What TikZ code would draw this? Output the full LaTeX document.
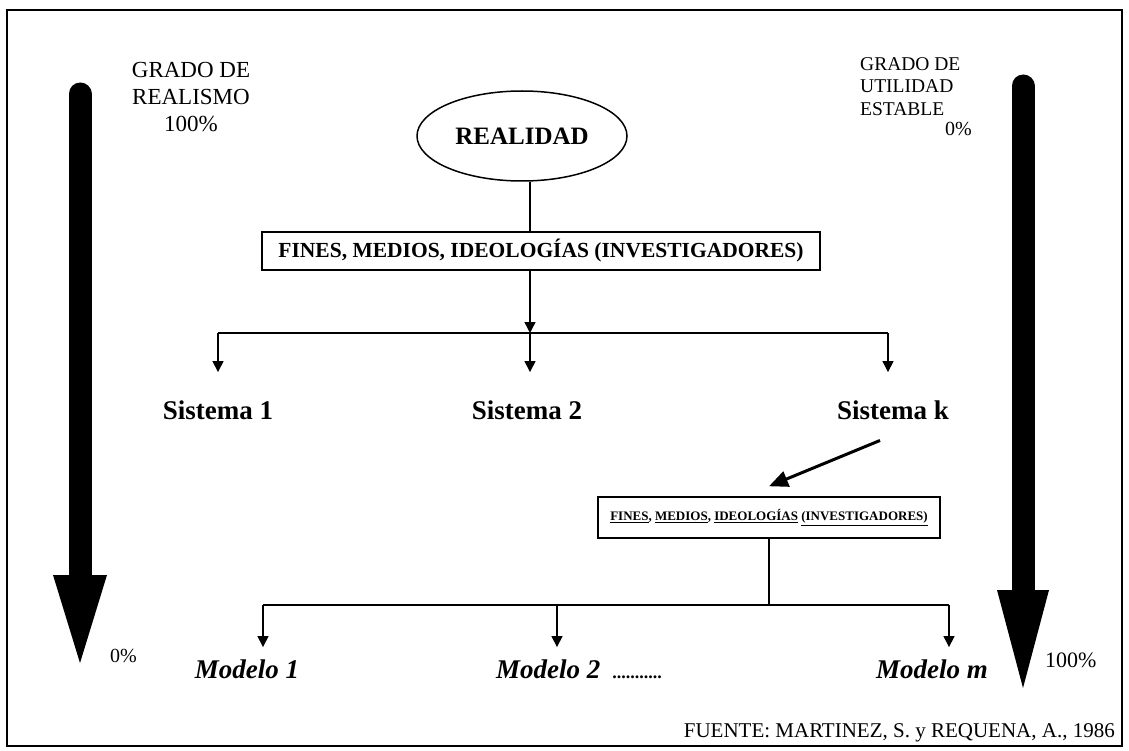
\documentclass[tikz,border=0pt]{standalone}
\usepackage{fontspec}
\setmainfont{Liberation Serif}
\usetikzlibrary{arrows.meta,shapes.geometric}
\begin{document}
\begin{tikzpicture}[x=1pt,y=-1pt,
  conn/.style={line width=1.4pt},
  arr/.style={line width=1.4pt,-{Triangle[width=11pt,length=11pt]}},
  bigarr/.style={line width=3pt,-{Triangle[width=16pt,length=19pt]}},
  bar/.style={line width=23pt,line cap=round},
  box/.style={draw,line width=1.5pt,inner sep=0pt},
  lbl/.style={inner sep=0pt,anchor=base},
  sis/.style={lbl,font=\fontsize{27}{27}\selectfont\bfseries},
  mod/.style={lbl,font=\fontsize{27}{27}\selectfont\bfseries\itshape},
]
\useasboundingbox (0,0) rectangle (1129,751);
\draw[line width=1.8pt] (7,10) rectangle (1122,746);

% big side arrows
\draw[bar] (80,94) -- (80,578);
\fill (53,575) -- (107,575) -- (80,663) -- cycle;
\draw[bar] (1023,86) -- (1023,593);
\fill (997,590) -- (1049,590) -- (1023,688) -- cycle;

% side labels
\node[inner sep=0pt,anchor=north,align=center,font=\fontsize{23}{27}\selectfont] (realismo) at (191,62) {GRADO DE\\REALISMO\\100\%};
\node[inner sep=0pt,anchor=north west,align=left,font=\fontsize{19.5}{22.5}\selectfont] (utilidad) at (860,57) {GRADO DE\\UTILIDAD\\ESTABLE};
\node[lbl,anchor=base east,font=\fontsize{20}{20}\selectfont] (p0r) at (972,136) {0\%};
\node[lbl,anchor=base west,font=\fontsize{20}{20}\selectfont] (p0l) at (110,662) {0\%};
\node[lbl,anchor=base west,font=\fontsize{22}{22}\selectfont] (p100r) at (1045,667) {100\%};

% top part
\node[ellipse,draw,line width=1.5pt,inner sep=0pt,minimum width=210pt,minimum height=90pt,font=\fontsize{25}{25}\selectfont\bfseries] (ell) at (522,136) {REALIDAD};
\node[box,minimum width=558pt,minimum height=38pt,font=\fontsize{21.5}{21.5}\selectfont\bfseries] (f1) at (541,251) {FINES, MEDIOS, IDEOLOGÍAS (INVESTIGADORES)};
\draw[conn] (ell.-80) -- (ell.-80 |- f1.north);

\coordinate (J1) at (530,333);
\coordinate (JL) at (218,333);
\coordinate (JR) at (888,333);
\draw[arr] (J1 |- f1.south) -- (J1);
\draw[conn] (JL) -- (JR);

\node[sis] (s1) at (218,419) {Sistema 1};
\node[sis] (s2) at (527,419) {Sistema 2};
\node[sis] (sk) at (893,419) {Sistema k};
\draw[arr,shorten >=28pt] (JL) -- (JL |- s1.north);
\draw[arr,shorten >=28pt] (J1) -- (J1 |- s2.north);
\draw[arr,shorten >=28pt] (JR) -- (JR |- sk.north);

% lower part
\node[box,minimum width=342pt,minimum height=41pt,font=\fontsize{13}{13}\selectfont\bfseries] (f2) at (769,517.5) {\underline{FINES}, \underline{MEDIOS}, \underline{IDEOLOGÍAS} \underline{(INVESTIGADORES)}};
\draw[bigarr] ([xshift=-13pt,yshift=-21pt]sk.south) -- ([yshift=10pt]f2.north);

\coordinate (ML) at (263,605);
\coordinate (MM) at (557,605);
\coordinate (MR) at (949,605);
\draw[conn] (f2.south) -- (f2.south |- ML);
\draw[conn] (ML) -- (MR);

\node[mod] (m1) at (247,678) {Modelo 1};
\node[mod,anchor=base west] (m2) at (496,678) {Modelo 2\hspace{12pt}{\normalfont\fontsize{18}{18}\selectfont\bfseries ...........}};
\node[mod] (mm) at (932,678) {Modelo m};
\draw[arr,shorten >=12pt] (ML) -- (ML |- m1.north);
\draw[arr,shorten >=12pt] (MM) -- (MM |- m2.north);
\draw[arr,shorten >=12pt] (MR) -- (MR |- mm.north);

\node[lbl,anchor=base east,font=\fontsize{21}{21}\selectfont] (src) at (1115,737) {FUENTE: MARTINEZ, S. y REQUENA, A., 1986};
\end{tikzpicture}
\end{document}
